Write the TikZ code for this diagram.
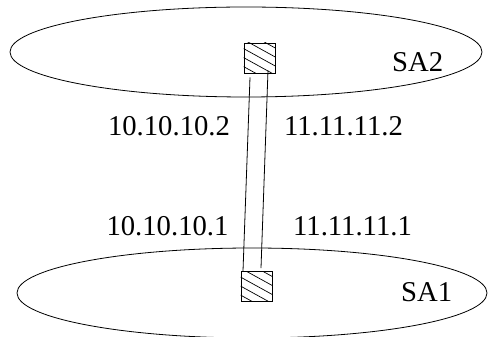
\documentclass[tikz,border=0pt]{standalone}
\usepackage{fontspec}
\setmainfont{Liberation Serif}
\usetikzlibrary{shapes.geometric}
\tikzset{
  area/.style={draw,ellipse,inner sep=0pt,line width=0.8pt},
  gwbox/.style={draw,rectangle,inner sep=0pt,minimum width=31pt,minimum height=30pt,line width=0.8pt},
  addr/.style={anchor=base,inner sep=0pt,font=\fontsize{28.7}{30}\selectfont},
  link/.style={line width=0.8pt}
}

\begin{document}
\begin{tikzpicture}[x=1pt,y=1pt]
  \useasboundingbox (0,0) rectangle (488,337);

  % --- the two areas ---
  \node[area,minimum width=472pt,minimum height=90pt] (sa2) at (246,285) {};
  \node[area,minimum width=470pt,minimum height=90pt] (sa1) at (252,44) {};
  \node[addr,anchor=base west] (sa2name) at (392,265) {SA2};
  \node[addr,anchor=base west] (sa1name) at (401,35) {SA1};

  % --- border routers (hatched) ---
  \node[gwbox] (gw2) at (259.5,279) {};
  \node[gwbox] (gw1) at (256.5,50.5) {};
  \foreach \gw in {gw2,gw1}{
    \begin{scope}
      \clip (\gw.south west) rectangle (\gw.north east);
      \foreach \d in {-24,-15,...,30}
        \draw[line width=0.7pt] ([yshift=\d pt]\gw.north west) -- ++(60,-33);
    \end{scope}
  }

  % --- the two links between them ---
  \draw[link] ([xshift=-9.5pt,yshift=-4pt]gw2.south) -- ([xshift=-13.5pt]gw1.north);
  \draw[link] ([xshift=8.5pt,yshift=3pt]gw2.south) -- ([xshift=4.5pt,yshift=3pt]gw1.north);

  % --- interface addresses ---
  \node[addr] (a2left)  at (169,201)   {10.10.10.2};
  \node[addr] (a2right) at (343.5,201) {11.11.11.2};
  \node[addr] (a1left)  at (167.5,101) {10.10.10.1};
  \node[addr] (a1right) at (352.5,101) {11.11.11.1};
\end{tikzpicture}
\end{document}
